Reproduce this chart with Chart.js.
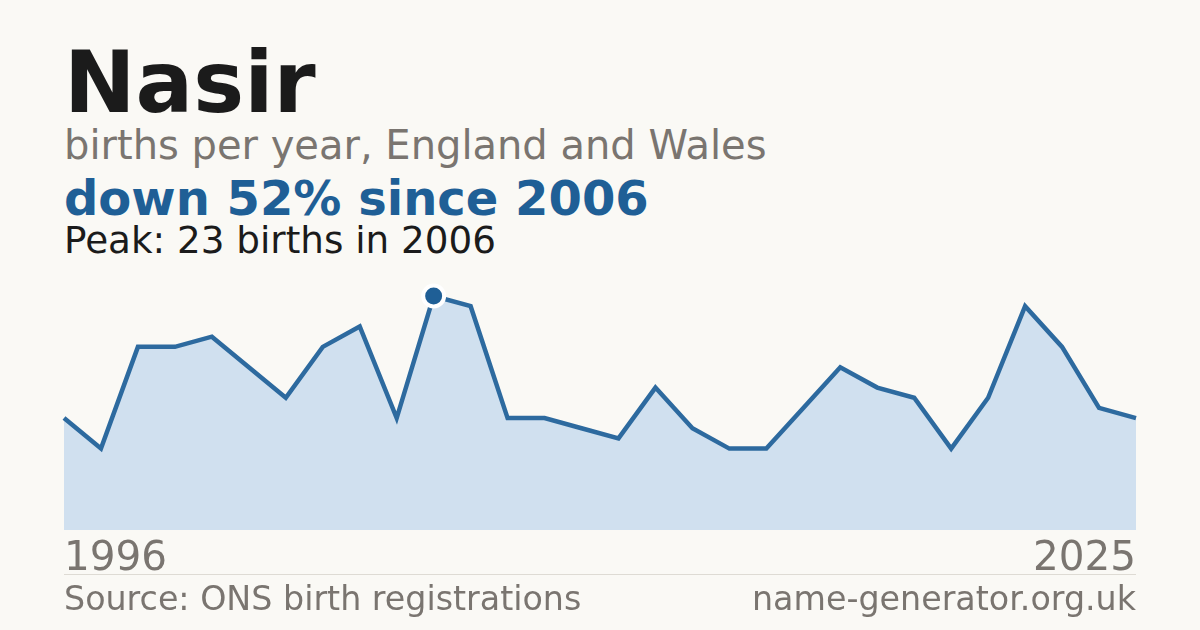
<!DOCTYPE html>
<html>
<head>
<meta charset="utf-8">
<script src="https://cdn.jsdelivr.net/npm/chart.js@4"></script>
<style>
  html, body { margin: 0; padding: 0; }
  body { width: 1200px; height: 630px; background: #faf9f5; position: relative; overflow: hidden; font-family: "DejaVu Sans", sans-serif; }
  .t { position: absolute; line-height: 1; white-space: nowrap; }
  #chartWrap { position: absolute; left: 54px; top: 280px; width: 1092px; height: 260px; }
  #rule { position: absolute; left: 64px; top: 574px; width: 1072px; height: 1px; background: #dedbd4; }
</style>
</head>
<body>
<div class="t" style="left:64px; top:40px; font-size:85.5px; font-weight:bold; color:#1b1b1b;">Nasir</div>
<div class="t" style="left:64px; top:125px; font-size:40px; color:#7a7570;">births per year, England and Wales</div>
<div class="t" style="left:64px; top:174px; font-size:48px; font-weight:bold; color:#1f5f96;">down 52% since 2006</div>
<div class="t" style="left:64px; top:222px; font-size:37.3px; color:#1b1b1b;">Peak: 23 births in 2006</div>
<div id="chartWrap"><canvas id="chart" width="1092" height="260"></canvas></div>
<div class="t" id="firstYear" style="left:64px; top:536px; font-size:40.5px; color:#7a7570;"></div>
<div class="t" id="lastYear" style="right:64px; top:536px; font-size:40.5px; color:#7a7570;"></div>
<div id="rule"></div>
<div class="t" style="left:64px; top:582px; font-size:33.3px; color:#7a7570;">Source: ONS birth registrations</div>
<div class="t" style="right:64px; top:582px; font-size:33.3px; color:#7a7570;">name-generator.org.uk</div>
<script>
// yearly births for the name
const years = [1996, 1997, 1998, 1999, 2000, 2001, 2002, 2003, 2004, 2005,
  2006, 2007, 2008, 2009, 2010, 2011, 2012, 2013, 2014, 2015,
  2016, 2017, 2018, 2019, 2020, 2021, 2022, 2023, 2024, 2025];
const births = [11, 8, 18, 18, 19, 16, 13, 18, 20, 11,
  23, 22, 11, 11, 10, 9, 14, 10, 8, 8,
  12, 16, 14, 13, 8, 13, 22, 18, 12, 11];
const peakYear = 2006;

document.getElementById('firstYear').textContent = years[0];
document.getElementById('lastYear').textContent = years[years.length - 1];

const peakIndex = years.indexOf(peakYear);
const radii = births.map((v, i) => (i === peakIndex ? 10.5 : 0));

new Chart(document.getElementById('chart'), {
  type: 'line',
  data: {
    labels: years,
    datasets: [{
      data: births,
      borderColor: '#2d6a9f',
      borderWidth: 4.5,
      backgroundColor: '#d0e0ef',
      fill: 'origin',
      tension: 0,
      pointRadius: radii,
      pointHoverRadius: radii,
      pointBackgroundColor: '#1f5f96',
      pointBorderColor: '#ffffff',
      pointBorderWidth: 4,
      clip: false,
    }],
  },
  options: {
    responsive: false,
    animation: false,
    devicePixelRatio: 1,
    layout: { padding: { left: 10, right: 10, top: 16, bottom: 10 } },
    plugins: { legend: { display: false }, tooltip: { enabled: false } },
    scales: {
      x: { display: false, offset: false },
      y: { display: false, min: 0, max: 23 },
    },
  },
});
</script>
</body>
</html>
